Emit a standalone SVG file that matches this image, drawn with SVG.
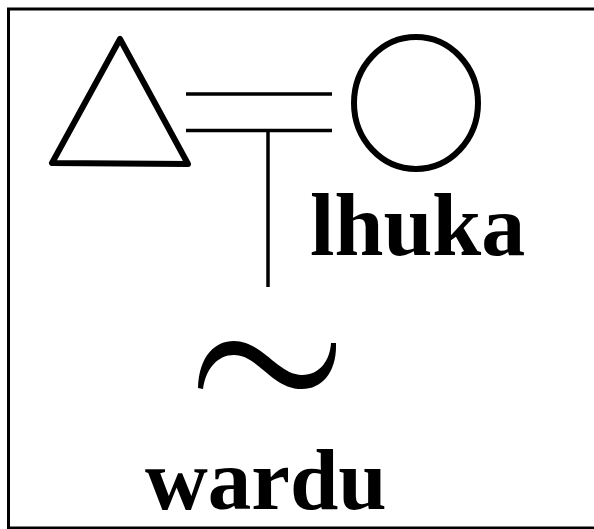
<svg xmlns="http://www.w3.org/2000/svg" width="594" height="529" viewBox="0 0 594 529">
<style>
.sym{fill:none;stroke:#000;stroke-width:6;stroke-linejoin:round}
.ln{stroke:#000;stroke-width:3.5;fill:none}
.lbl{font-family:"Liberation Serif","Times New Roman",serif;font-weight:bold;font-size:88px;fill:#000}
</style>
<rect x="0" y="0" width="594" height="529" fill="#fff"/>
<rect x="8.5" y="9" width="600" height="519" fill="none" stroke="#000" stroke-width="3"/>
<g id="connectors">
<line class="ln" x1="186" y1="94" x2="332" y2="94"/>
<line class="ln" x1="186" y1="130.5" x2="332" y2="130.5"/>
<line class="ln" x1="268" y1="130.5" x2="268" y2="287" stroke-width="3"/>
</g>
<g id="male">
<polygon class="sym" points="120,39 52,163 188,164"/>
</g>
<g id="female">
<ellipse class="sym" cx="416" cy="103" rx="62" ry="66"/>
</g>
<g id="lhuka">
<text class="lbl" x="310" y="255">lhuka</text>
</g>
<g id="tilde">
<path d="M198,388 C199,356 215,341 234,341 C262,341 278,375 302,375 C320,375 330,360 331,343 L336,343 C337,372 322,389 302,389 C272,389 258,355 234,355 C218,355 206,368 203,389 Z" fill="#000"/>
</g>
<g id="wardu">
<text class="lbl" x="145" y="509" style="font-size:87px">wardu</text>
</g>
</svg>
